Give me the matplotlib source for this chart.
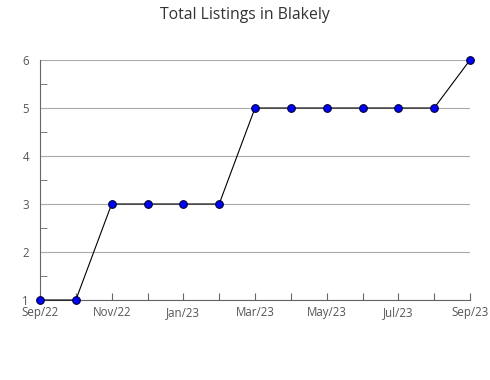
import matplotlib
matplotlib.use("Agg")
import matplotlib.pyplot as plt
from matplotlib.ticker import MultipleLocator

# Monthly totals, Sep/22 .. Sep/23
months = ["Sep/22", "Oct/22", "Nov/22", "Dec/22", "Jan/23", "Feb/23", "Mar/23",
          "Apr/23", "May/23", "Jun/23", "Jul/23", "Aug/23", "Sep/23"]
listings = [1, 1, 3, 3, 3, 3, 5, 5, 5, 5, 5, 5, 6]

plt.rcParams["font.family"] = ["Open Sans", "DejaVu Sans"]

fig = plt.figure(figsize=(4.9, 3.8), dpi=100)
ax = fig.add_axes([40 / 490, 1 - 300 / 380, 430 / 490, 240 / 380])

x = list(range(len(months)))
ax.plot(x, listings, color="black", linewidth=0.8, marker="o", markersize=5.5,
        markerfacecolor="#0000ff", markeredgecolor="#000033", markeredgewidth=0.8,
        zorder=3, clip_on=False)

ax.set_xlim(0, len(months) - 1)
ax.set_ylim(1, 6)
ax.set_xticks(x)
ax.set_xticklabels([m if i % 2 == 0 else "" for i, m in enumerate(months)])
ax.yaxis.set_major_locator(MultipleLocator(1))
ax.yaxis.set_minor_locator(MultipleLocator(0.5))

ax.grid(True, axis="y", color="#aaaaaa", linewidth=0.8)
ax.set_axisbelow(True)
for side in ("top", "right"):
    ax.spines[side].set_visible(False)
for side in ("left", "bottom"):
    ax.spines[side].set_color("#666666")

ax.tick_params(axis="x", direction="in", length=5, color="#666666",
               labelsize=8.3, labelcolor="#555555", pad=4.5)
ax.tick_params(axis="y", which="major", length=0, labelsize=8.3,
               labelcolor="#555555", pad=8)
ax.tick_params(axis="y", which="minor", direction="in", length=5, color="#666666")

fig.suptitle("Total Listings in Blakely", y=1 - 15 / 380, fontsize=11.3,
             color="#333333", va="center")

fig.savefig("out.png", dpi=100)
